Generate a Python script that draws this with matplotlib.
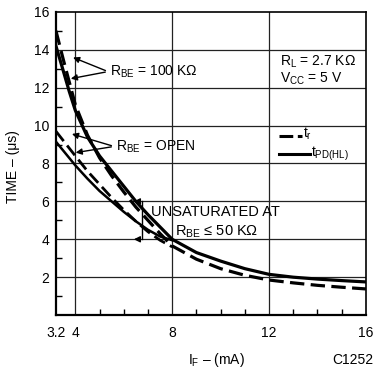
import matplotlib
matplotlib.use("Agg")
import matplotlib.pyplot as plt
from matplotlib.ticker import FixedLocator

plt.rcParams['font.family'] = ['Liberation Sans', 'DejaVu Sans']
plt.rcParams['mathtext.fontset'] = 'custom'
plt.rcParams['mathtext.rm'] = 'Liberation Sans'
plt.rcParams['mathtext.default'] = 'regular'

# forward current, mA
i_f = [3.2, 3.5, 3.75, 4.0, 4.5, 5.0, 5.5, 6.0, 6.5, 7.0, 7.5, 8.0,
       9.0, 10.0, 11.0, 12.0, 13.0, 14.0, 15.0, 16.0]
# R_BE = 100 kOhm
tpd_100k = [14.2, 12.9, 11.8, 10.8, 9.4, 8.4, 7.6, 6.8, 6.0, 5.3, 4.65, 4.0,
            3.3, 2.85, 2.45, 2.15, 2.0, 1.9, 1.82, 1.75]
tr_100k = [15.0, 13.5, 12.3, 11.1, 9.5, 8.3, 7.35, 6.5, 5.7, 5.0, 4.3, 3.65,
           2.95, 2.45, 2.1, 1.85, 1.7, 1.57, 1.47, 1.38]
# R_BE = open
i_f_open = [3.2, 4.0, 4.5, 5.0, 5.5, 6.0, 6.5, 7.0, 7.5, 8.0]
tpd_open = [9.15, 7.9, 7.2, 6.55, 6.0, 5.45, 4.95, 4.5, 4.15, 3.95]
tr_open = [9.7, 8.4, 7.6, 6.9, 6.2, 5.55, 4.95, 4.4, 3.95, 3.6]

x_ticks = [3.2, 4, 8, 12, 16]
x_labels = ['3.2', '4', '8', '12', '16']
y_ticks = [2, 4, 6, 8, 10, 12, 14, 16]

fig = plt.figure(figsize=(3.73, 3.72), dpi=100)
ax = fig.add_axes([0.150, 0.153, 0.831, 0.815])

dash = (0, (4.5, 2.0))
ax.plot(i_f, tpd_100k, color='black', lw=2.3)
ax.plot(i_f, tr_100k, color='black', lw=2.3, linestyle=dash)
ax.plot(i_f_open, tpd_open, color='black', lw=1.8)
ax.plot(i_f_open, tr_open, color='black', lw=2.0, linestyle=dash)

ax.set_xlim(3.2, 16)
ax.set_ylim(0, 16)
ax.set_xticks(x_ticks)
ax.set_xticklabels(x_labels)
ax.set_yticks(y_ticks)
ax.xaxis.set_minor_locator(FixedLocator([5, 6, 7, 9, 10, 11, 13, 14, 15]))
ax.yaxis.set_minor_locator(FixedLocator([1, 3, 5, 7, 9, 11, 13, 15]))
ax.tick_params(which='major', length=0, labelsize=10, pad=8)
ax.tick_params(which='minor', direction='in', length=4, width=1)
ax.tick_params(axis='y', which='major', pad=5)

for y in [2, 4, 6, 8, 10, 12, 14]:
    ax.axhline(y, color='#222222', lw=0.9, zorder=0)
for x in [4, 8, 12]:
    ax.axvline(x, color='#222222', lw=0.9, zorder=0)
for s in ['left', 'bottom']:
    ax.spines[s].set_linewidth(1.6)
for s in ['top', 'right']:
    ax.spines[s].set_linewidth(1.2)

ax.set_ylabel('TIME – (μs)', fontsize=10)
ax.yaxis.set_label_coords(-0.115, 0.49)
fig.text(0.58, 0.032, 'I$_F$ – (mA)', fontsize=10, ha='center', va='center')
fig.text(0.89, 0.032, 'C1252', fontsize=10, ha='left', va='center')

arrow = dict(arrowstyle='-|>', color='black', lw=1.0, mutation_scale=9)
ax.text(5.45, 12.85, 'R$_{BE}$ = 100 KΩ', fontsize=10, va='center')
ax.annotate('', xy=(3.8, 13.65), xytext=(5.35, 12.85), arrowprops=arrow)
ax.annotate('', xy=(3.7, 12.45), xytext=(5.35, 12.85), arrowprops=arrow)

ax.text(5.7, 8.9, 'R$_{BE}$ = OPEN', fontsize=10, va='center')
ax.annotate('', xy=(3.75, 9.6), xytext=(5.6, 8.9), arrowprops=arrow)
ax.annotate('', xy=(3.9, 8.55), xytext=(5.6, 8.9), arrowprops=arrow)

ax.text(7.13, 5.45, 'UNSATURATED AT', fontsize=10.5, va='center')
ax.text(8.1, 4.4, 'R$_{BE}$ ≤ 50 KΩ', fontsize=10.5, va='center')
ax.plot([6.75, 6.75], [4.0, 6.0], color='black', lw=1.0)
ax.annotate('', xy=(6.3, 6.0), xytext=(6.77, 6.0), arrowprops=arrow)
ax.annotate('', xy=(6.3, 4.0), xytext=(6.77, 4.0), arrowprops=arrow)

ax.text(12.45, 13.35, 'R$_L$ = 2.7 KΩ', fontsize=10, va='center')
ax.text(12.45, 12.45, 'V$_{CC}$ = 5 V', fontsize=10, va='center')
ax.plot([12.4, 13.35], [9.47, 9.47], color='black', lw=2.2, linestyle=(0, (4.5, 1.5)))
ax.text(13.4, 9.55, 't$_r$', fontsize=10, va='center')
ax.plot([12.4, 13.7], [8.5, 8.5], color='black', lw=2.2)
ax.text(13.75, 8.5, 't$_{PD(HL)}$', fontsize=10, va='center')

fig.savefig('out.png', dpi=100)
